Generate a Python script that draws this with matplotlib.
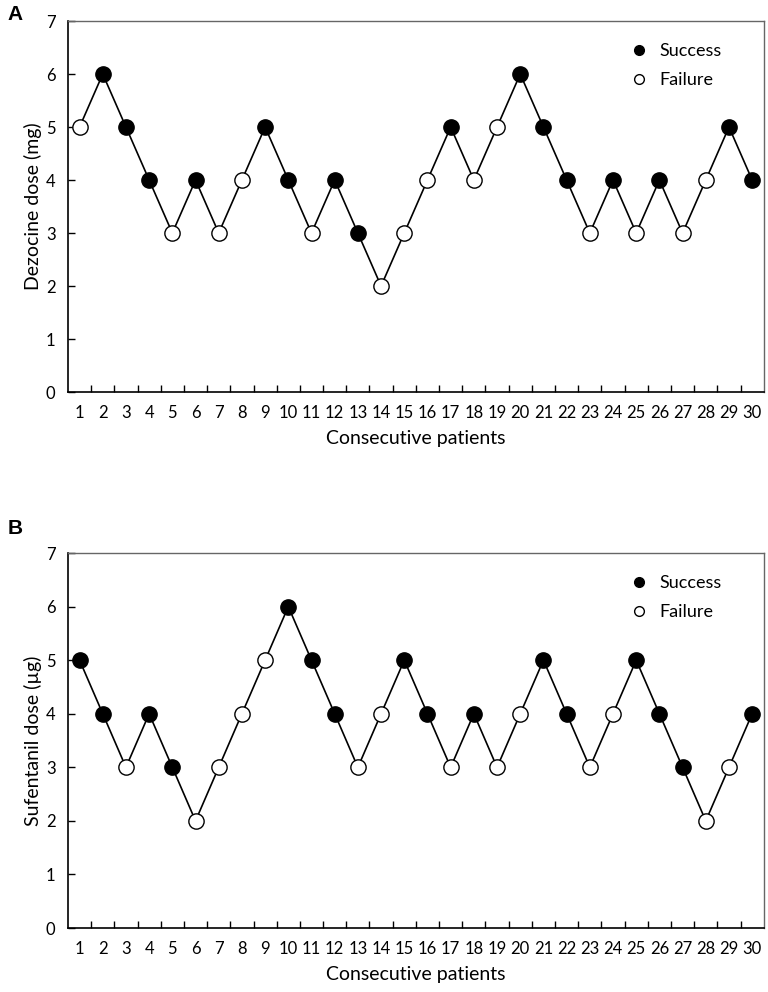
import matplotlib.pyplot as plt
from matplotlib.lines import Line2D

plt.rcParams['font.family'] = ['Lato', 'DejaVu Sans']

patients = list(range(1, 31))

# panel A: dezocine
dose_a = [5, 6, 5, 4, 3, 4, 3, 4, 5, 4, 3, 4, 3, 2, 3, 4, 5, 4, 5, 6, 5, 4, 3, 4, 3, 4, 3, 4, 5, 4]
success_a = [0, 1, 1, 1, 0, 1, 0, 0, 1, 1, 0, 1, 1, 0, 0, 0, 1, 0, 0, 1, 1, 1, 0, 1, 0, 1, 0, 0, 1, 1]

# panel B: sufentanil
dose_b = [5, 4, 3, 4, 3, 2, 3, 4, 5, 6, 5, 4, 3, 4, 5, 4, 3, 4, 3, 4, 5, 4, 3, 4, 5, 4, 3, 2, 3, 4]
success_b = [1, 1, 0, 1, 1, 0, 0, 0, 0, 1, 1, 1, 0, 0, 1, 1, 0, 1, 0, 0, 1, 1, 0, 0, 1, 1, 1, 0, 0, 1]

fig = plt.figure(figsize=(7.68, 9.92), dpi=100)
ax_a = fig.add_axes([0.0885, 0.6048, 0.906, 0.374])
ax_b = fig.add_axes([0.0885, 0.0645, 0.906, 0.378])


def draw_panel(ax, doses, success, ylabel):
    ax.plot(patients, doses, color='black', linewidth=1.2, zorder=2)
    for p, d, s in zip(patients, doses, success):
        ax.plot(p, d, marker='o', markersize=11, markeredgewidth=1.0,
                markeredgecolor='black', markerfacecolor='black' if s else 'white',
                linestyle='none', zorder=3)
    ax.set_xlim(0.5, 30.5)
    ax.set_ylim(0, 7)
    ax.set_yticks(range(0, 8))
    ax.set_xticks(patients)
    ax.set_xticks([p + 0.5 for p in patients[:-1]], minor=True)
    ax.tick_params(axis='x', which='major', length=0, labelsize=12, pad=9)
    ax.tick_params(axis='x', which='minor', direction='in', length=5, width=1)
    ax.tick_params(axis='y', direction='in', length=5, width=1, labelsize=12, pad=9)
    for side in ['left', 'bottom']:
        ax.spines[side].set_color('black')
        ax.spines[side].set_linewidth(1.2)
    for side in ['top', 'right']:
        ax.spines[side].set_color('#666666')
        ax.spines[side].set_linewidth(1.0)
    ax.set_xlabel('Consecutive patients', fontsize=14, labelpad=7)
    ax.set_ylabel(ylabel, fontsize=14, labelpad=3)
    handles = [
        Line2D([], [], marker='o', linestyle='none', markersize=7,
               markerfacecolor='black', markeredgecolor='black', label='Success'),
        Line2D([], [], marker='o', linestyle='none', markersize=7,
               markerfacecolor='white', markeredgecolor='black', label='Failure'),
    ]
    ax.legend(handles=handles, loc='upper left', bbox_to_anchor=(0.785, 0.985),
              frameon=False, fontsize=13, handlelength=1.0, handletextpad=0.6,
              labelspacing=0.75)


draw_panel(ax_a, dose_a, success_a, 'Dezocine dose (mg)')
draw_panel(ax_b, dose_b, success_b, 'Sufentanil dose (µg)')

fig.text(0.01, 1 - 14 / 992, 'A', fontsize=15, fontweight='bold',
         family=['Liberation Sans', 'DejaVu Sans'], ha='left', va='center')
fig.text(0.01, 1 - 529 / 992, 'B', fontsize=15, fontweight='bold',
         family=['Liberation Sans', 'DejaVu Sans'], ha='left', va='center')

fig.savefig('out.png', dpi=100)
